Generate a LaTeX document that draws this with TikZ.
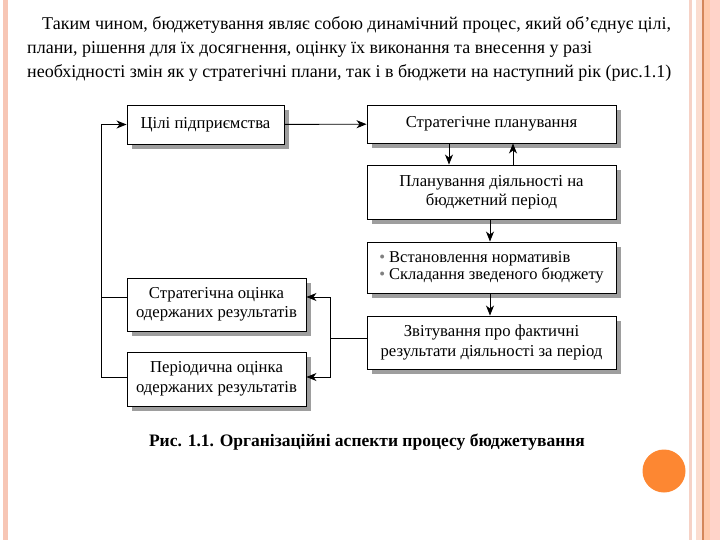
\documentclass[tikz,border=0pt]{standalone}
\usepackage{fontspec}
\setmainfont{Liberation Serif}
\usetikzlibrary{arrows.meta,shadows}
\definecolor{stripeA}{HTML}{F7C6B5}
\definecolor{stripeB}{HTML}{F6D2C6}
\definecolor{stripeC}{HTML}{FBDDD0}
\definecolor{stripeD}{HTML}{D4875A}
\definecolor{stripeE}{HTML}{FFC9AB}
\definecolor{stripeF}{HTML}{FFD3C9}
\definecolor{dotorange}{HTML}{FD8732}
\begin{document}
\begin{tikzpicture}[x=1pt,y=-1pt,
  box/.style={draw=black, line width=0.9pt, fill=white, inner sep=1pt, align=center,
    font=\fontsize{16.7}{19.5}\selectfont,
    drop shadow={shadow xshift=5pt, shadow yshift=-5pt, fill=black!38, opacity=1}},
  conn/.style={line width=0.9pt},
  arr/.style={conn, -{Stealth[length=10pt,width=8pt,inset=3pt]}},
  body/.style={anchor=base west, inner sep=0pt, font=\fontsize{18}{24}\selectfont}]
\useasboundingbox (0,0) rectangle (720,540);
% decorative stripes and dot
\fill[stripeA] (3,0) rectangle (8,540);
\fill[stripeB] (689,0) rectangle (692,540);
\fill[stripeC] (696,0) rectangle (702,540);
\fill[stripeD] (702,0) rectangle (703.5,540);
\fill[stripeE] (703.5,0) rectangle (710,540);
\fill[stripeF] (710,0) rectangle (720,540);
\fill[dotorange] (664,471) circle (21.5);
% paragraph
\node[body] (t1) at (42,30) {Таким чином, бюджетування являє собою динамічний процес, який об’єднує цілі,};
\node[body] (t2) at (27,54) {плани, рішення для їх досягнення, оцінку їх виконання та внесення у разі};
\node[body] (t3) at (27,78) {необхідності змін як у стратегічні плани, так і в бюджети на наступний рік (рис.1.1)};
% boxes
\node[box, minimum width=157pt, minimum height=39pt] (b1) at (205.5,124.5) {Цілі підприємства};
\node[box, minimum width=249pt, minimum height=38pt] (b2) at (491.5,124) {Стратегічне планування};
\node[box, minimum width=249pt, minimum height=54pt] (b5) at (491.5,192) {Планування діяльності на\\бюджетний період};
\node[box, minimum width=249pt, minimum height=51pt, align=left, font=\fontsize{16.5}{16.5}\selectfont] (b6) at (491.5,267.5) {{\color{gray}•} Встановлення нормативів\\{\color{gray}•} Складання зведеного бюджету};
\node[box, minimum width=249pt, minimum height=53pt] (b7) at (491.5,342.5) {Звітування про фактичні\\результати діяльності за період};
\node[box, minimum width=179pt, minimum height=53pt] (b3) at (216.5,304.5) {Стратегічна оцінка\\одержаних результатів};
\node[box, minimum width=179pt, minimum height=54pt] (b4) at (216.5,379) {Періодична оцінка\\одержаних результатів};
% connectors
\draw[arr] (b1) -- (b2);
\draw[arr] ([xshift=-42.5pt]b2.south) -- ([xshift=-42.5pt]b5.north);
\draw[arr] ([xshift=21.5pt]b5.north) -- ([xshift=21.5pt]b2.south);
\draw[arr] ([xshift=-1.5pt]b5.south) -- ([xshift=-1.5pt]b6.north);
\draw[arr] ([xshift=-1.5pt]b6.south) -- ([xshift=-1.5pt]b7.north);
\coordinate (j) at (330,338);
\coordinate (j1) at (330,297);
\coordinate (j2) at (330,377);
\draw[conn] ([yshift=4.5pt]b7.west) -- (j);
\draw[arr] (j) -- (j1) -- (j1 -| b3.east);
\draw[arr] (j) -- (j2) -- (j2 -| b4.east);
\coordinate (fb) at (101,377);
\draw[conn] ([yshift=7.5pt]b3.west) -- ++(-26,0);
\draw[arr] ([yshift=2pt]b4.west) -- (fb) |- (b1.west);
% caption
\node[anchor=base, inner sep=0pt, font=\bfseries\fontsize{17.5}{20}\selectfont] (cap) at (367,446) {Рис. 1.1. Організаційні аспекти процесу бюджетування};
\end{tikzpicture}
\end{document}
